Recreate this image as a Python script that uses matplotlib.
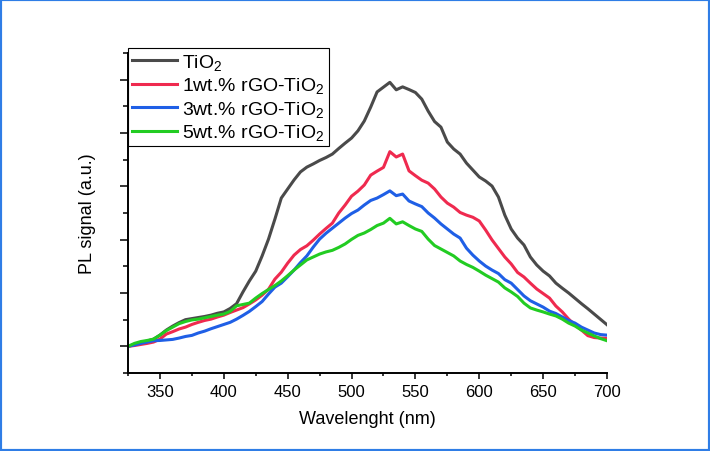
import numpy as np
import matplotlib
matplotlib.use("Agg")
import matplotlib.pyplot as plt
from matplotlib.patches import Rectangle
from matplotlib.ticker import MultipleLocator, NullFormatter

plt.rcParams['font.family'] = ['Liberation Sans', 'DejaVu Sans']
plt.rcParams['mathtext.fontset'] = 'custom'
plt.rcParams['mathtext.rm'] = 'Liberation Sans'
plt.rcParams['mathtext.it'] = 'Liberation Sans:italic'

wavelength = np.arange(325, 701, 5)

tio2 = [0.0, 0.07, 0.12, 0.20, 0.27, 0.42, 0.61, 0.76, 0.89, 1.00,
        1.04, 1.08, 1.12, 1.17, 1.24, 1.29, 1.42, 1.60, 2.04, 2.45,
        2.82, 3.39, 4.02, 4.77, 5.56, 5.90, 6.24, 6.54, 6.72, 6.84,
        6.97, 7.08, 7.21, 7.42, 7.62, 7.81, 8.08, 8.45, 8.97, 9.54,
        9.72, 9.90, 9.62, 9.73, 9.63, 9.52, 9.27, 8.82, 8.43, 8.22,
        7.66, 7.40, 7.21, 6.87, 6.61, 6.35, 6.20, 6.01, 5.60, 4.92,
        4.40, 4.06, 3.80, 3.35, 3.05, 2.82, 2.64, 2.37, 2.18, 2.00,
        1.80, 1.60, 1.41, 1.21, 1.01, 0.81]

rgo1 = [0.0, 0.03, 0.07, 0.11, 0.16, 0.27, 0.46, 0.55, 0.65, 0.72,
        0.82, 0.90, 0.97, 1.02, 1.10, 1.17, 1.27, 1.36, 1.45, 1.59,
        1.74, 1.92, 2.14, 2.52, 2.78, 3.12, 3.42, 3.63, 3.77, 3.98,
        4.21, 4.42, 4.62, 5.00, 5.30, 5.63, 5.82, 6.05, 6.42, 6.57,
        6.71, 7.30, 7.10, 7.21, 6.58, 6.40, 6.23, 6.12, 5.90, 5.60,
        5.37, 5.22, 5.02, 4.92, 4.84, 4.70, 4.36, 3.99, 3.67, 3.35,
        3.09, 2.77, 2.60, 2.37, 2.15, 1.98, 1.81, 1.51, 1.29, 1.02,
        0.80, 0.61, 0.40, 0.33, 0.31, 0.30]

rgo3 = [0.0, 0.05, 0.11, 0.16, 0.21, 0.22, 0.24, 0.26, 0.31, 0.37,
        0.41, 0.50, 0.57, 0.66, 0.74, 0.82, 0.90, 1.02, 1.16, 1.31,
        1.49, 1.68, 1.96, 2.22, 2.37, 2.61, 2.86, 3.14, 3.39, 3.72,
        4.02, 4.24, 4.43, 4.62, 4.81, 4.98, 5.11, 5.30, 5.47, 5.56,
        5.69, 5.83, 5.65, 5.71, 5.45, 5.34, 5.24, 5.00, 4.81, 4.59,
        4.40, 4.21, 4.06, 3.68, 3.42, 3.20, 3.01, 2.86, 2.73, 2.50,
        2.37, 2.13, 1.89, 1.71, 1.59, 1.47, 1.32, 1.23, 1.10, 0.97,
        0.87, 0.72, 0.61, 0.50, 0.44, 0.42]

rgo5 = [0.0, 0.11, 0.18, 0.22, 0.27, 0.42, 0.59, 0.72, 0.85, 0.93,
        0.99, 1.02, 1.07, 1.12, 1.17, 1.21, 1.31, 1.52, 1.57, 1.62,
        1.81, 1.98, 2.13, 2.28, 2.45, 2.65, 2.86, 3.05, 3.24, 3.35,
        3.46, 3.54, 3.60, 3.71, 3.84, 4.01, 4.16, 4.25, 4.38, 4.53,
        4.62, 4.80, 4.59, 4.67, 4.53, 4.40, 4.31, 4.02, 3.78, 3.65,
        3.52, 3.39, 3.20, 3.07, 2.96, 2.82, 2.67, 2.54, 2.41, 2.19,
        2.04, 1.87, 1.62, 1.44, 1.36, 1.29, 1.21, 1.14, 1.02, 0.87,
        0.76, 0.61, 0.50, 0.39, 0.29, 0.21]

labels = ['TiO$_2$', '1wt.% rGO-TiO$_2$', '3wt.% rGO-TiO$_2$', '5wt.% rGO-TiO$_2$']
colors = ['#4a4a4a', '#ef2a4f', '#1f5fe6', '#22cc22']

fig = plt.figure(figsize=(7.1, 4.52), dpi=100)
ax = fig.add_axes([128/710, 1 - 374/452, 479/710, 320/452])

for ys, lab, c in zip([tio2, rgo1, rgo3, rgo5], labels, colors):
    ax.plot(wavelength, ys, color=c, lw=2.2, label=lab)

ax.set_xlim(325, 700)
ax.set_ylim(-1, 11)
ax.xaxis.set_major_locator(MultipleLocator(50))
ax.xaxis.set_minor_locator(MultipleLocator(25))
ax.yaxis.set_major_locator(MultipleLocator(2))
ax.yaxis.set_minor_locator(MultipleLocator(1))
ax.yaxis.set_major_formatter(NullFormatter())
ax.set_xticks([350, 400, 450, 500, 550, 600, 650, 700])

for s in ['top', 'right']:
    ax.spines[s].set_visible(False)
for s in ['left', 'bottom']:
    ax.spines[s].set_linewidth(1.4)

ax.tick_params(axis='x', which='major', length=4, width=1.1, labelsize=12, pad=4)
ax.tick_params(axis='x', which='minor', length=2.5, width=1.1)
ax.tick_params(axis='y', which='major', length=5.5, width=1.1)
ax.tick_params(axis='y', which='minor', length=3.5, width=1.1)

ax.set_xlabel('Wavelenght (nm)', fontsize=13, labelpad=8)
ax.set_ylabel('PL signal (a.u.)', fontsize=13, labelpad=14)

leg = ax.legend(loc='upper left', bbox_to_anchor=(0.0, 1.0156), borderaxespad=0,
                fontsize=14, frameon=True, fancybox=False, edgecolor='black',
                framealpha=1, handlelength=2.3, handletextpad=0.3,
                labelspacing=0.18, borderpad=0.2)
leg.get_frame().set_linewidth(0.8)
for h in leg.get_lines():
    h.set_linewidth(2.2)

fig.patches.append(Rectangle((0, 0), 1, 1, transform=fig.transFigure, fill=False,
                             edgecolor='#2f7de6', lw=3))

fig.savefig('out.png', dpi=100)
